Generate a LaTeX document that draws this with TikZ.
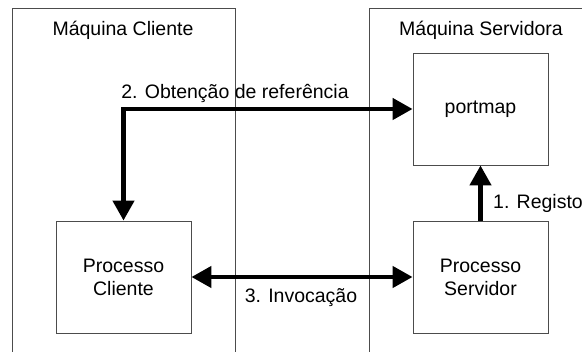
\documentclass[tikz,border=0pt]{standalone}
\usepackage{fontspec}
\setmainfont{Liberation Sans}
\usetikzlibrary{arrows.meta}
\begin{document}
\begin{tikzpicture}[x=1pt,y=-1pt,
  every node/.style={font=\fontsize{19.5}{23}\selectfont, inner sep=0pt},
  frame/.style={draw=black!70, line width=0.9pt},
  proc/.style={draw=black!70, line width=0.9pt, minimum width=135pt, minimum height=112pt, align=center},
  thick arrow/.style={line width=4.5pt, line join=miter, -{Triangle[length=20pt,width=21pt]}},
  both arrow/.style={line width=4.5pt, line join=miter, {Triangle[length=20pt,width=21pt]}-{Triangle[length=20pt,width=21pt]}}]
\useasboundingbox (0,0) rectangle (582,352);
\fill[white] (0,0) rectangle (582,352);
% machine frames
\draw[frame] (12,352) -- (12,8) -- (235,8) -- (235,352);
\draw[frame] (369,352) -- (369,8) -- (582,8);
\node (mc) at (123,30) {Máquina Cliente};
\node (ms) at (481,30) {Máquina Servidora};
% processes
\node[proc] (pm) at (480.5,109) {portmap};
\node[proc] (pc) at (123.5,277) {Processo\\Cliente};
\node[proc] (ps) at (480.5,277) {Processo\\Servidor};
% arrows
\draw[both arrow] (pm.west) -| (pc.north);
\node (l2) at (235,93) {2. Obtenção de referência};
\draw[both arrow] (pc.east) -- (ps.west);
\node (l3) at (301,298) {3. Invocação};
\draw[thick arrow] (ps.north) -- (pm.south);
\node[anchor=west] (l1) at (493,203) {1. Registo};
\end{tikzpicture}
\end{document}
